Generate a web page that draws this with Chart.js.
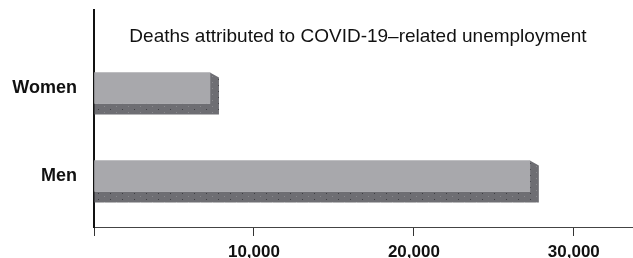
<!DOCTYPE html>
<html>
<head>
<meta charset="utf-8">
<script src="https://cdn.jsdelivr.net/npm/chart.js@4.4.0/dist/chart.umd.min.js"></script>
<style>
  html, body { margin: 0; padding: 0; background: #fff; }
  #wrap { width: 633px; height: 258px; }
</style>
</head>
<body>
<div id="wrap"><canvas id="deathChart" width="633" height="258"></canvas></div>
<script>
document.addEventListener("DOMContentLoaded", function(){
	// data
	const groups = ['Women', 'Men'];
	const groupPos = [1, 2];
	const deaths = [7250, 27250];
	const xTicks = [0, 10000, 20000, 30000];
	const titleText = 'Deaths attributed to COVID-19\u2013related unemployment';

	const ctx = document.getElementById('deathChart').getContext('2d');

	// dotted texture for the dark face
	function makePattern() {
		const c = document.createElement('canvas');
		c.width = 12; c.height = 6;
		const p = c.getContext('2d');
		p.fillStyle = '#6e6e73';
		p.fillRect(0, 0, 12, 6);
		p.fillStyle = '#3c3c40';
		p.fillRect(2, 1, 1, 1);
		p.fillStyle = '#8a8a8e';
		p.fillRect(8, 4, 1, 1);
		return ctx.createPattern(c, 'repeat');
	}
	const darkFill = makePattern();

	// depth of the 3d bars, drawn before the light face
	const depthPlugin = {
		id: 'depth',
		beforeDatasetsDraw(chart) {
			const c = chart.ctx;
			const meta = chart.getDatasetMeta(0);
			c.save();
			meta.data.forEach(function(bar){
				const top = bar.y - bar.height / 2;
				const bottom = bar.y + bar.height / 2;
				const dx = 9, dy = 11;
				c.beginPath();
				c.moveTo(bar.x, top);
				c.lineTo(bar.x + dx, top + 5);
				c.lineTo(bar.x + dx, bottom + dy);
				c.lineTo(bar.base, bottom + dy);
				c.lineTo(bar.base, bottom);
				c.lineTo(bar.x, bottom);
				c.closePath();
				c.fillStyle = darkFill;
				c.fill();
			});
			c.restore();
		},
		afterDraw(chart) {
			const c = chart.ctx;
			c.save();
			c.font = '19px "Liberation Sans", Arial, sans-serif';
			c.fillStyle = '#111';
			c.textAlign = 'center';
			c.textBaseline = 'alphabetic';
			c.fillText(titleText, 358, 42);
			c.restore();
		}
	};

	new Chart(ctx, {
		type: 'bar',
		data: {
			datasets: [{
				label: 'Deaths',
				data: groupPos.map((p, i) => ({ x: deaths[i], y: p })),
				backgroundColor: '#a8a8ac',
				borderWidth: 0,
				barThickness: 31
			}]
		},
		plugins: [depthPlugin],
		options: {
			indexAxis: 'y',
			responsive: false,
			animation: false,
			layout: { padding: { top: 10, right: 0, left: 0, bottom: 0 } },
			plugins: {
				legend: { display: false },
				tooltip: { enabled: false },
				title: { display: false }
			},
			scales: {
				x: {
					type: 'linear',
					min: 0,
					max: 33700,
					offset: false,
					afterBuildTicks: (scale) => { scale.ticks = xTicks.map(v => ({ value: v })); },
					afterFit: (scale) => { scale.height = 31; scale.paddingLeft = 0; scale.paddingRight = 0; },
					grid: { drawOnChartArea: false, tickLength: 9, color: '#333', lineWidth: 1, offset: false },
					border: { color: '#444', width: 1 },
					ticks: {
						padding: 6,
						color: '#111',
						font: { family: '"Liberation Sans", Arial, sans-serif', size: 17, weight: 'bold' },
						callback: (v) => v === 0 ? '' : v.toLocaleString('en-US')
					}
				},
				y: {
					type: 'linear',
					reverse: true,
					min: 0.114,
					max: 2.58,
					offset: false,
					afterBuildTicks: (scale) => { scale.ticks = groupPos.map(v => ({ value: v })); },
					afterFit: (scale) => { scale.width = 94; scale.paddingTop = 0; scale.paddingBottom = 0; },
					grid: { display: false, drawTicks: false, offset: false },
					border: { color: '#111', width: 2 },
					ticks: {
						padding: 17,
						color: '#111',
						font: { family: '"Liberation Sans", Arial, sans-serif', size: 18, weight: 'bold' },
						callback: (v) => groups[groupPos.indexOf(v)] || ''
					}
				}
			}
		}
	});
});
</script>
</body>
</html>
